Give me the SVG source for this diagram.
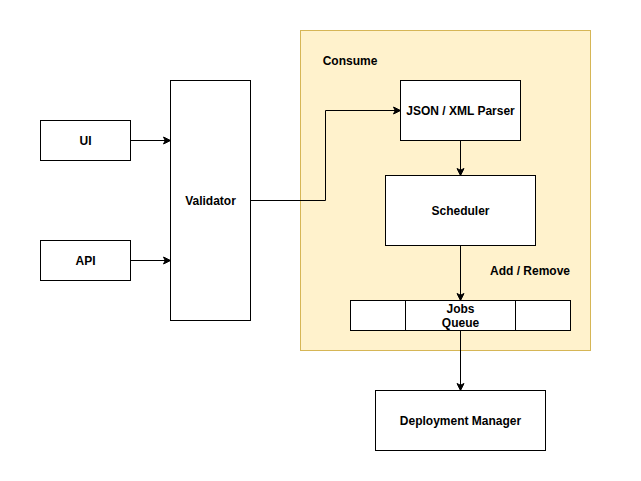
<svg xmlns="http://www.w3.org/2000/svg" width="641" height="481" viewBox="0 0 641 481">
<style>
.box{fill:#ffffff;stroke:#000000;stroke-width:1}
.t{font-family:"Liberation Sans",Arial,sans-serif;font-size:12px;font-weight:bold;fill:#000000;text-anchor:middle}
.c{fill:none;stroke:#000000;stroke-width:1}
</style>
<defs>
<marker id="arr" markerUnits="userSpaceOnUse" markerWidth="10" markerHeight="10" viewBox="0 0 10 10" refX="8" refY="5" orient="auto">
<path d="M1,1.5 L8,5 L1,8.5 L2.75,5 Z" fill="#000000" stroke="#000000" stroke-width="1"/>
</marker>
</defs>
<rect width="641" height="481" fill="#ffffff"/>
<g id="container">
<rect x="300.5" y="30.5" width="290" height="320" fill="#fff2cc" stroke="#d6b656"/>
<text class="t" x="350" y="65">Consume</text>
<text class="t" x="530" y="275">Add / Remove</text>
</g>
<g id="ui"><rect class="box" x="40.5" y="120.5" width="90" height="40"/><text class="t" x="85.5" y="145">UI</text></g>
<g id="api"><rect class="box" x="40.5" y="240.5" width="90" height="40"/><text class="t" x="85.5" y="265">API</text></g>
<g id="validator"><rect class="box" x="170.5" y="80.5" width="80" height="240"/><text class="t" x="210.5" y="205">Validator</text></g>
<g id="parser"><rect class="box" x="400.5" y="80.5" width="120" height="60"/><text class="t" x="460.5" y="115">JSON / XML Parser</text></g>
<g id="scheduler"><rect class="box" x="385.5" y="175.5" width="150" height="70"/><text class="t" x="460.5" y="215">Scheduler</text></g>
<g id="queue">
<rect class="box" x="350.5" y="300.5" width="220" height="30"/>
<line class="c" x1="405.5" y1="300.5" x2="405.5" y2="330.5"/>
<line class="c" x1="515.5" y1="300.5" x2="515.5" y2="330.5"/>
<text class="t" x="460.5" y="313">Jobs</text>
<text class="t" x="460.5" y="327">Queue</text>
</g>
<g id="deploy"><rect class="box" x="375.5" y="390.5" width="170" height="60"/><text class="t" x="460.5" y="425">Deployment Manager</text></g>
<g id="connectors">
<path class="c" d="M130.5,140.5 L170.5,140.5" marker-end="url(#arr)"/>
<path class="c" d="M130.5,260.5 L170.5,260.5" marker-end="url(#arr)"/>
<path class="c" d="M250.5,200.5 L325.5,200.5 L325.5,110.5 L400.5,110.5" marker-end="url(#arr)"/>
<path class="c" d="M460.5,140.5 L460.5,175.5" marker-end="url(#arr)"/>
<path class="c" d="M460.5,245.5 L460.5,300.5" marker-end="url(#arr)"/>
<path class="c" d="M460.5,330.5 L460.5,390.5" marker-end="url(#arr)"/>
</g>
</svg>
